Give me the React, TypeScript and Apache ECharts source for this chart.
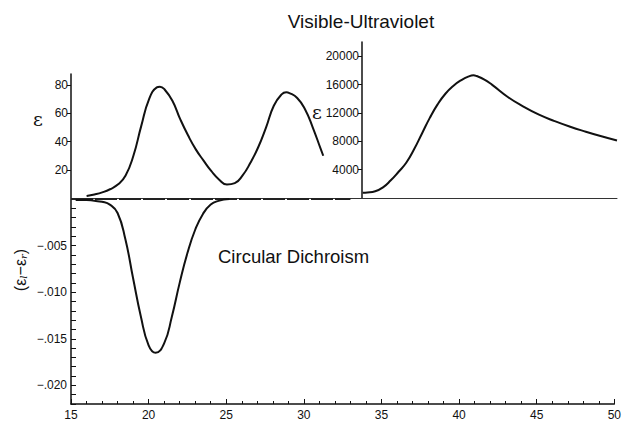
import React, { useEffect, useRef } from "react";
import * as echarts from "echarts";

// Visible absorption (left panel), wavenumber (kK) vs epsilon
const visWn = [16.0, 16.5, 17.0, 17.5, 18.0, 18.5, 19.0, 19.5, 20.0, 20.5, 20.7, 21.0, 21.5, 22.0, 22.5, 23.0, 23.5, 24.0, 24.5, 25.0, 25.5, 26.0, 26.5, 27.0, 27.5, 28.0, 28.5, 28.8, 29.0, 29.5, 30.0, 30.5, 31.0, 31.17];
const visEps = [1.4, 2.5, 4, 6.2, 9.5, 16, 30, 51, 70, 78.5, 79, 77, 69, 56, 44.5, 34.5, 26.5, 19, 13, 9.5, 10.5, 16, 25, 36, 50, 65.5, 73.5, 75, 74.5, 71, 63, 50, 35, 30];

// UV absorption (right panel)
const uvWn = [33.7, 34.0, 34.5, 35.0, 35.5, 36.0, 36.5, 37.0, 37.5, 38.0, 38.5, 39.0, 39.5, 40.0, 40.5, 40.8, 41.0, 41.5, 42.0, 43.0, 44.0, 45.0, 46.0, 47.0, 48.0, 49.0, 50.0];
const uvEps = [750, 780, 950, 1500, 2500, 3700, 5000, 6900, 9100, 11300, 13200, 14700, 15800, 16600, 17150, 17300, 17200, 16700, 15950, 14250, 12900, 11750, 10850, 10050, 9350, 8700, 8100];

// Circular dichroism
const cdWn = [15.3, 16.0, 16.5, 17.0, 17.5, 18.0, 18.5, 19.0, 19.5, 20.0, 20.45, 21.0, 21.5, 22.0, 22.5, 23.0, 23.5, 24.0, 24.5, 25.2];
const cdVal = [-0.0001, -0.0001, -0.0002, -0.0003, -0.0006, -0.0015, -0.0043, -0.0085, -0.0126, -0.0157, -0.0165, -0.0155, -0.0126, -0.0090, -0.0058, -0.0033, -0.0016, -0.0006, -0.0002, 0];
const cdBaselineRange = [15, 33];

// tick labels
const visTicks = [20, 40, 60, 80];
const uvTicks = [4000, 8000, 12000, 16000, 20000];
const cdTicks = [-0.005, -0.01, -0.015, -0.02];

const FONT = "'Liberation Sans', Arial, Helvetica, sans-serif";
const INK = "#111";

export default function App() {
  const ref = useRef<HTMLDivElement>(null);
  useEffect(() => {
    if (!ref.current) return;
    const chart = echarts.init(ref.current, null, { renderer: "svg" });
    const zip = (a: number[], b: number[]) => a.map((v, i) => [v, b[i]]);
    const cdMinor: number[] = [];
    for (let i = 0; i <= 22; i++) cdMinor.push(-i / 1000);
    const lbl = { color: INK, fontSize: 12, fontFamily: FONT };
    const axLine = { show: true, onZero: false, lineStyle: { color: INK, width: 1.5 } };
    const option: any = {
      animation: false,
      backgroundColor: "#fff",
      textStyle: { fontFamily: FONT },
      grid: [
        { left: 71, top: 74, width: 546, height: 124 },
        { left: 362, top: 42, width: 255, height: 156 },
        { left: 71, top: 199, width: 546, height: 210 },
      ],
      xAxis: [
        {
          gridIndex: 0, type: "value", min: 15, max: 50,
          axisLine: { show: true, onZero: false, lineStyle: { color: "#333", width: 1 } },
          axisTick: { show: false }, axisLabel: { show: false }, splitLine: { show: false },
        },
        { gridIndex: 1, type: "value", min: 33.654, max: 50, show: false, splitLine: { show: false } },
        {
          gridIndex: 2, type: "value", min: 15, max: 50, interval: 5,
          axisLine: axLine,
          axisTick: { inside: true, length: 5, lineStyle: { color: INK, width: 1 } },
          minorTick: { show: true, splitNumber: 5, length: 3, lineStyle: { color: INK, width: 1 } },
          axisLabel: { ...lbl, margin: 5 },
          splitLine: { show: false },
        },
      ],
      yAxis: [
        {
          gridIndex: 0, type: "value", min: 0, max: 88,
          axisLine: axLine,
          axisTick: { customValues: visTicks, length: 4, lineStyle: { color: INK } },
          axisLabel: { ...lbl, customValues: visTicks, margin: 3 },
          splitLine: { show: false },
        },
        {
          gridIndex: 1, type: "value", min: 0, max: 22000,
          axisLine: axLine,
          axisTick: { customValues: uvTicks, length: 4, lineStyle: { color: INK } },
          axisLabel: { ...lbl, customValues: uvTicks, margin: 3, formatter: (v: number) => String(v) },
          splitLine: { show: false },
        },
        {
          gridIndex: 2, type: "value", min: -0.022, max: 0,
          axisLine: axLine,
          axisTick: { customValues: cdMinor, inside: true, length: 5, lineStyle: { color: INK } },
          axisLabel: {
            ...lbl, customValues: cdTicks, margin: 4,
            formatter: (v: number) => "\u2212." + String(Math.round(-v * 1000)).padStart(3, "0"),
          },
          splitLine: { show: false },
        },
      ],
      series: [
        {
          type: "line", xAxisIndex: 0, yAxisIndex: 0, data: zip(visWn, visEps),
          smooth: 0.5, showSymbol: false, clip: false,
          lineStyle: { color: INK, width: 2 },
        },
        {
          type: "line", xAxisIndex: 1, yAxisIndex: 1, data: zip(uvWn, uvEps),
          smooth: 0.5, showSymbol: false, clip: false,
          lineStyle: { color: INK, width: 2 },
        },
        {
          type: "line", xAxisIndex: 2, yAxisIndex: 2,
          data: cdBaselineRange.map((x) => [x, 0]),
          showSymbol: false, clip: false,
          lineStyle: { color: "#222", width: 2, type: [22, 2] },
        },
        {
          type: "line", xAxisIndex: 2, yAxisIndex: 2, data: zip(cdWn, cdVal),
          smooth: 0.5, showSymbol: false, clip: false,
          lineStyle: { color: INK, width: 2 },
        },
      ],
      graphic: [
        {
          type: "text", x: 361, y: 21,
          style: { text: "Visible-Ultraviolet", fill: INK, fontSize: 19, fontFamily: FONT, textAlign: "center", textVerticalAlign: "middle" },
        },
        {
          type: "text", x: 218, y: 256,
          style: { text: "Circular Dichroism", fill: INK, fontSize: 18.5, fontFamily: FONT, textAlign: "left", textVerticalAlign: "middle" },
        },
        {
          type: "text", x: 38, y: 119,
          style: { text: "\u03b5", fill: INK, fontSize: 19, fontFamily: "'DejaVu Serif', serif", textAlign: "center", textVerticalAlign: "middle" },
        },
        {
          type: "text", x: 317, y: 112,
          style: { text: "\u03b5", fill: INK, fontSize: 19, fontFamily: "'DejaVu Serif', serif", textAlign: "center", textVerticalAlign: "middle" },
        },
        {
          type: "text", x: 20, y: 270, rotation: Math.PI / 2,
          style: {
            text: "(\u03b5{sub|l}\u2212\u03b5{sub|r})",
            fill: INK, fontSize: 16, fontFamily: FONT,
            textAlign: "center", textVerticalAlign: "middle",
            rich: {
              sub: { fontSize: 10, fill: INK, fontFamily: "'DejaVu Serif', serif", fontStyle: "italic", verticalAlign: "bottom", padding: [6, 0, 0, 0] },
            },
          },
        },
      ],
    };
    chart.setOption(option);
    return () => chart.dispose();
  }, []);
  return <div ref={ref} style={{ width: 624, height: 421, position: "absolute", left: 0, top: 0 }} />;
}
